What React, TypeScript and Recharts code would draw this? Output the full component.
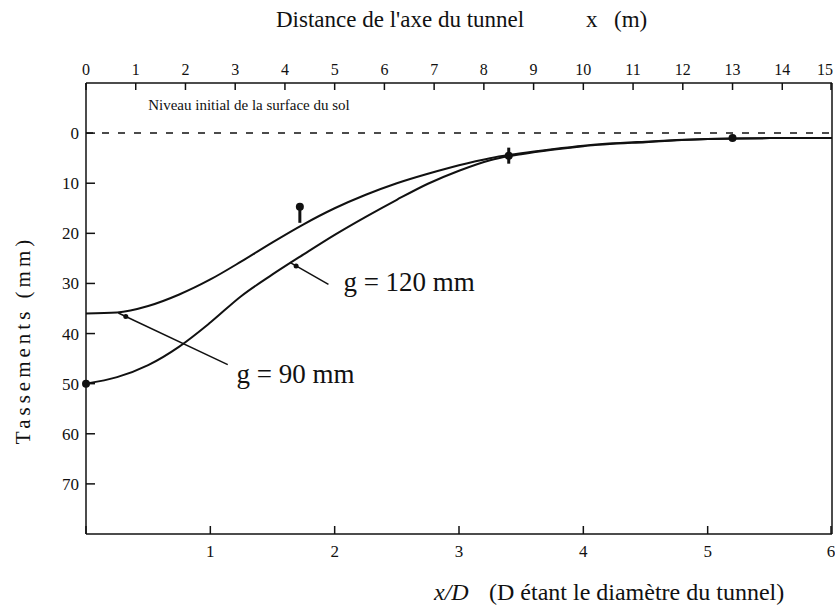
import {
  ComposedChart,
  Line,
  Scatter,
  ErrorBar,
  XAxis,
  YAxis,
  ReferenceLine,
  ReferenceDot,
} from "recharts";

// x/D positions (D = 2.5 m) and settlements in mm
const xOverD = [0, 0.25, 0.5, 0.75, 1, 1.25, 1.5, 1.75, 2, 2.25, 2.5, 2.75, 3, 3.25, 3.5, 3.75, 4, 4.5, 5, 5.5, 6];
const settlementG90 = [36, 35.8, 34.5, 32.2, 29.2, 25.6, 21.8, 18.2, 15, 12.3, 10, 8.1, 6.4, 5, 4, 3.2, 2.5, 1.7, 1.2, 1, 1];
const settlementG120 = [50, 48.7, 46.3, 42.6, 37.8, 32.5, 28.2, 24.2, 20.3, 16.7, 13.3, 10.1, 7.5, 5.4, 4.2, 3.3, 2.6, 1.8, 1.2, 1, 1];

// measured points with vertical bars
const measuredX = [0, 1.72, 3.4, 5.2];
const measuredY = [50, 14.7, 4.5, 1];
const measuredErr = [[0, 0], [0, 3.2], [1.6, 1.6], [0, 0]];

const metresTicks = [0, 1, 2, 3, 4, 5, 6, 7, 8, 9, 10, 11, 12, 13, 14, 15];
const tunnelDiameter = 2.5;
const ratioTicks = [0, 1, 2, 3, 4, 5, 6];
const settlementTicks = [0, 10, 20, 30, 40, 50, 60, 70];

const W = 835;
const H = 611;
const PLOT_LEFT = 86;
const PLOT_TOP = 83;
const PLOT_BOTTOM = 534;
const FONT = "'Liberation Serif', 'DejaVu Serif', serif";
const INK = "#111";

const curveData = xOverD.map((x, i) => ({
  xd: x,
  g90: settlementG90[i],
  g120: settlementG120[i],
}));

const pointData = measuredX.map((x, i) => ({ xd: x, s: measuredY[i], err: measuredErr[i] }));

function TopTick({ x, payload }: any) {
  const m = Math.round(payload.value * tunnelDiameter);
  // last label sits on the right edge, keep it inside the picture
  const anchor = m === metresTicks[metresTicks.length - 1] ? "end" : "middle";
  return (
    <g>
      <line x1={x} x2={x} y1={PLOT_TOP} y2={PLOT_TOP + 7} stroke={INK} strokeWidth={1.5} />
      <text x={anchor === "end" ? x + 2 : x} y={PLOT_TOP - 8} textAnchor={anchor} fontSize={16} fontFamily={FONT} fill={INK}>
        {m}
      </text>
    </g>
  );
}

function BottomTick({ x, payload }: any) {
  return (
    <g>
      <line x1={x} x2={x} y1={PLOT_BOTTOM} y2={PLOT_BOTTOM - 8} stroke={INK} strokeWidth={1.5} />
      {payload.value !== 0 && (
        <text x={x} y={PLOT_BOTTOM + 23} textAnchor="middle" fontSize={17} fontFamily={FONT} fill={INK}>
          {payload.value}
        </text>
      )}
    </g>
  );
}

function LeftTick({ y, payload }: any) {
  return (
    <g>
      <line x1={PLOT_LEFT} x2={PLOT_LEFT + 9} y1={y} y2={y} stroke={INK} strokeWidth={1.5} />
      <text x={PLOT_LEFT - 7} y={y + 6} textAnchor="end" fontSize={17} fontFamily={FONT} fill={INK}>
        {payload.value}
      </text>
    </g>
  );
}

export default function App() {
  return (
    <div style={{ position: "absolute", left: 0, top: 0, width: W, height: H, background: "#fff" }}>
      <ComposedChart
        width={W}
        height={H}
        data={curveData}
        margin={{ top: 0, right: 3, bottom: 0, left: 0 }}
      >
        <XAxis
          xAxisId="bottom"
          dataKey="xd"
          type="number"
          domain={[0, 6]}
          ticks={ratioTicks}
          height={77}
          tickSize={0}
          tickLine={false}
          tick={<BottomTick />}
          axisLine={{ stroke: INK, strokeWidth: 1.5 }}
          label={{
            content: () => (
              <text y={600} fontSize={24} fontFamily={FONT} fill={INK}>
                <tspan x={434} fontStyle="italic">x/D</tspan>
                <tspan x={489}>(D étant le diamètre du tunnel)</tspan>
              </text>
            ),
          }}
        />
        <XAxis
          xAxisId="top"
          orientation="top"
          dataKey="xd"
          type="number"
          domain={[0, 6]}
          ticks={metresTicks.map((m) => m / tunnelDiameter)}
          height={83}
          tickSize={0}
          tickLine={false}
          tick={<TopTick />}
          axisLine={{ stroke: INK, strokeWidth: 1.5 }}
          label={{
            content: () => (
              <text y={27} fontSize={23} fontFamily={FONT} fill={INK}>
                <tspan x={276}>Distance de l'axe du tunnel</tspan>
                <tspan x={586}>x</tspan>
                <tspan x={614}>(m)</tspan>
              </text>
            ),
          }}
        />
        <YAxis
          type="number"
          domain={[-10, 80]}
          reversed
          ticks={settlementTicks}
          width={86}
          tickSize={0}
          tickLine={false}
          tick={<LeftTick />}
          axisLine={{ stroke: INK, strokeWidth: 1.5 }}
          label={{
            content: () => (
              <text
                x={30}
                y={340}
                transform="rotate(-90 30 340)"
                textAnchor="middle"
                fontSize={21}
                letterSpacing={4}
                fontFamily={FONT}
                fill={INK}
              >
                Tassements (mm)
              </text>
            ),
          }}
        />
        <ReferenceLine xAxisId="bottom" x={6} stroke={INK} strokeWidth={1.5} />
        <ReferenceLine xAxisId="bottom" y={0} stroke={INK} strokeWidth={1.5} strokeDasharray="7 9" />
        <ReferenceDot
          xAxisId="bottom"
          x={0.46}
          y={-5.6}
          r={0}
          label={{ value: "Niveau initial de la surface du sol", position: "right", fontSize: 15, fontFamily: FONT, fill: INK }}
        />

        <Line
          xAxisId="bottom"
          dataKey="g90"
          type="monotone"
          stroke={INK}
          strokeWidth={2}
          dot={false}
          isAnimationActive={false}
        />
        <Line
          xAxisId="bottom"
          dataKey="g120"
          type="monotone"
          stroke={INK}
          strokeWidth={2}
          dot={false}
          isAnimationActive={false}
        />
        <Scatter
          xAxisId="bottom"
          data={pointData}
          dataKey="s"
          fill={INK}
          shape={(p: any) => <circle cx={p.cx} cy={p.cy} r={4} fill={INK} />}
          isAnimationActive={false}
        >
          <ErrorBar dataKey="err" direction="y" width={0} stroke={INK} strokeWidth={3} />
        </Scatter>

        {/* leader lines to the curve labels */}
        <ReferenceLine
          xAxisId="bottom"
          segment={[{ x: 1.64, y: 25.8 }, { x: 1.95, y: 30.2 }]}
          stroke={INK}
          strokeWidth={1.5}
        />
        <ReferenceDot xAxisId="bottom" x={1.69} y={26.5} r={2.5} fill={INK} stroke="none" />
        <ReferenceDot
          xAxisId="bottom"
          x={2.03}
          y={29.6}
          r={0}
          label={{ value: "g = 120 mm", position: "right", fontSize: 27, fontFamily: FONT, fill: INK }}
        />
        <ReferenceLine
          xAxisId="bottom"
          segment={[{ x: 0.26, y: 35.9 }, { x: 1.14, y: 46.2 }]}
          stroke={INK}
          strokeWidth={1.5}
        />
        <ReferenceDot xAxisId="bottom" x={0.32} y={36.6} r={2.5} fill={INK} stroke="none" />
        <ReferenceDot
          xAxisId="bottom"
          x={1.17}
          y={47.9}
          r={0}
          label={{ value: "g = 90 mm", position: "right", fontSize: 27, fontFamily: FONT, fill: INK }}
        />
      </ComposedChart>
    </div>
  );
}
